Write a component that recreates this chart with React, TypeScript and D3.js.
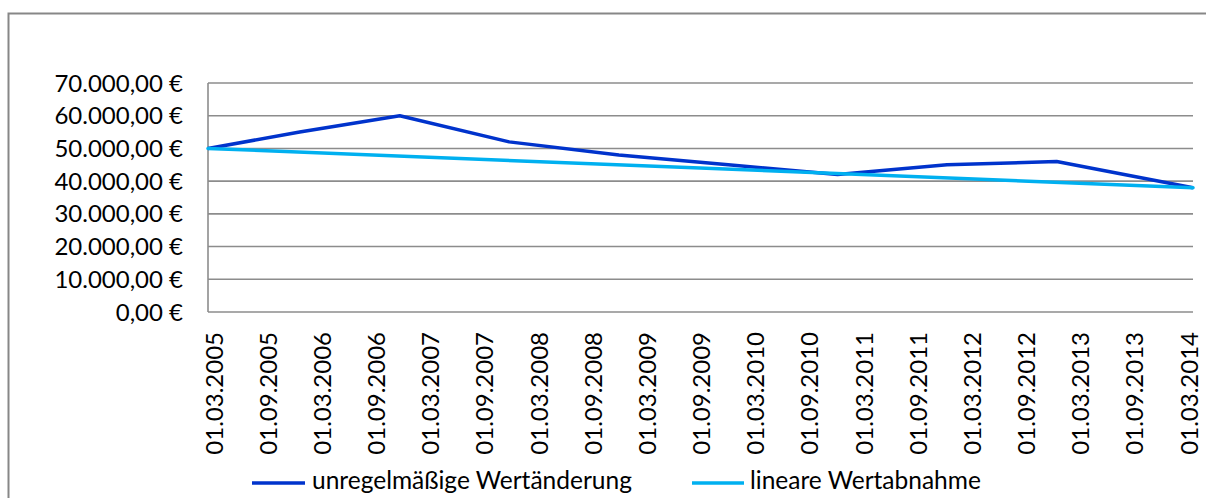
import * as d3 from "d3"

const W = 1206
const H = 498

// tick labels on the x axis (every half year)
const xLabels = [
  "01.03.2005", "01.09.2005", "01.03.2006", "01.09.2006", "01.03.2007",
  "01.09.2007", "01.03.2008", "01.09.2008", "01.03.2009", "01.09.2009",
  "01.03.2010", "01.09.2010", "01.03.2011", "01.09.2011", "01.03.2012",
  "01.09.2012", "01.03.2013", "01.09.2013", "01.03.2014",
]

const yTicks = [0, 10000, 20000, 30000, 40000, 50000, 60000, 70000]

// unregelmäßige Wertänderung
const irregularDates = [
  "01.03.2005", "01.01.2006", "01.12.2006", "01.12.2007", "01.12.2008",
  "01.12.2009", "01.12.2010", "01.12.2011", "01.12.2012", "01.03.2014",
]
const irregularValues = [50000, 55000, 60000, 52000, 48000, 45000, 42000, 45000, 46000, 38000]

// lineare Wertabnahme
const linearDates = ["01.03.2005", "01.03.2014"]
const linearValues = [50000, 38000]

const seriesNames = ["unregelmäßige Wertänderung", "lineare Wertabnahme"]
const COLORS = ["#0033CC", "#00B0F0"]

const FONT = "Lato, 'Open Sans', sans-serif"
const FS = 24
const PLOT = { left: 208, right: 1193, top: 83, bottom: 312 }

const parse = d3.timeParse("%d.%m.%Y")
const euro = (v: number) => {
  const s = d3.format(",.2f")(v)
  return s.replace(/,/g, "#").replace(".", ",").replace(/#/g, ".") + " €"
}

export default function App() {
  const xScale = d3
    .scaleTime()
    .domain([parse(xLabels[0])!, parse(xLabels[xLabels.length - 1])!])
    .range([PLOT.left, PLOT.right])

  // label centres sit a little inside the plot ends
  const labelScale = d3.scalePoint<string>().domain(xLabels).range([214, 1189])

  const yScale = d3.scaleLinear().domain([0, 70000]).range([PLOT.bottom, PLOT.top])

  const line = d3
    .line<[string, number]>()
    .x((d) => xScale(parse(d[0])!))
    .y((d) => yScale(d[1]))

  const irregular = irregularDates.map((d, i) => [d, irregularValues[i]] as [string, number])
  const linear = linearDates.map((d, i) => [d, linearValues[i]] as [string, number])

  const legend = [
    { name: seriesNames[0], color: COLORS[0], x1: 252, x2: 305, tx: 312 },
    { name: seriesNames[1], color: COLORS[1], x1: 692, x2: 744, tx: 750 },
  ]

  return (
    <svg
      width={W}
      height={H}
      style={{ position: "absolute", left: 0, top: 0, background: "#fff" }}
      fontFamily={FONT}
    >
      <rect x={8.5} y={13.5} width={W + 20} height={H + 20} fill="#fff" stroke="#878787" strokeWidth={2} />

      {yTicks.map((t) => (
        <g key={t}>
          <line
            x1={PLOT.left}
            x2={PLOT.right}
            y1={yScale(t)}
            y2={yScale(t)}
            stroke="#8c8c8c"
            strokeWidth={1.6}
          />
          <text x={183} y={yScale(t) + 8.5} textAnchor="end" fontSize={FS} fill="#000">
            {euro(t)}
          </text>
        </g>
      ))}
      <line x1={PLOT.left} x2={PLOT.left} y1={PLOT.top} y2={PLOT.bottom} stroke="#8c8c8c" strokeWidth={1.6} />

      {xLabels.map((l) => (
        <text
          key={l}
          transform={`translate(${labelScale(l)! + 8.5},${332}) rotate(-90)`}
          textAnchor="end"
          fontSize={FS}
          fill="#000"
        >
          {l}
        </text>
      ))}

      <path d={line(irregular)!} fill="none" stroke={COLORS[0]} strokeWidth={3.5} strokeLinejoin="round" />
      <path d={line(linear)!} fill="none" stroke={COLORS[1]} strokeWidth={3.5} strokeLinecap="round" />

      {legend.map((d) => (
        <g key={d.name}>
          <line x1={d.x1} x2={d.x2} y1={483} y2={483} stroke={d.color} strokeWidth={3.5} />
          <text x={d.tx} y={489} fontSize={FS + 0.5} fill="#000">
            {d.name}
          </text>
        </g>
      ))}
    </svg>
  )
}
